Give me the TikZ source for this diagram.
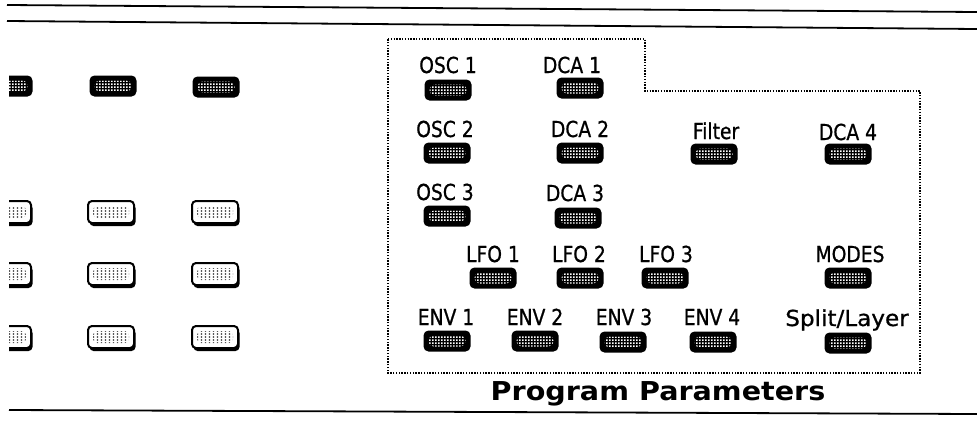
\documentclass[tikz,border=0pt]{standalone}
\usepackage{fontspec}
\usetikzlibrary{patterns,shadows}
\newfontfamily\lblfont[FakeStretch=0.85,FakeBold=0.8]{DejaVu Sans}
\newfontfamily\lblwidefont[FakeStretch=1.05,FakeBold=0.8]{DejaVu Sans}
\newfontfamily\titlefont[FakeStretch=1.1]{DejaVu Sans Bold}
\pgfdeclarepatternformonly{speckle}{\pgfqpoint{0pt}{0pt}}{\pgfqpoint{3pt}{3pt}}{\pgfqpoint{3pt}{3pt}}{%
  \pgfpathrectangle{\pgfqpoint{0pt}{0pt}}{\pgfqpoint{2.1pt}{2.1pt}}%
  \pgfusepath{fill}}
\pgfdeclarepatternformonly{griddots}{\pgfqpoint{0pt}{0pt}}{\pgfqpoint{4pt}{3pt}}{\pgfqpoint{4pt}{3pt}}{%
  \pgfpathrectangle{\pgfqpoint{1pt}{0.5pt}}{\pgfqpoint{1.6pt}{1.6pt}}%
  \pgfusepath{fill}}
\tikzset{
  lbl/.style={font=\lblfont\fontsize{22}{24}\selectfont, anchor=base, inner sep=0pt},
  ttl/.style={font=\titlefont\fontsize{26}{28}\selectfont, anchor=base, inner sep=0pt},
  btn/.style={rectangle, rounded corners=5pt, fill=black, minimum width=47pt, minimum height=21pt, inner sep=0pt,
    path picture={\fill[pattern=speckle, pattern color=white]
      ([xshift=5pt,yshift=5pt]path picture bounding box.south west) rectangle
      ([xshift=-5pt,yshift=-5pt]path picture bounding box.north east);}},
  wbtn/.style={rectangle, rounded corners=4pt, fill=white, draw=black, line width=2pt,
    minimum width=46pt, minimum height=22pt, inner sep=0pt,
    drop shadow={shadow xshift=1.5pt, shadow yshift=-3pt, fill=black, opacity=1},
    path picture={\fill[pattern=griddots, pattern color=black]
      ([xshift=5pt,yshift=5pt]path picture bounding box.south west) rectangle
      ([xshift=-5pt,yshift=-5pt]path picture bounding box.north east);}},
  rule/.style={line width=1.8pt, black},
  dotborder/.style={line width=1.4pt, dash pattern=on 1.4pt off 1.4pt, black}
}
\begin{document}
\begin{tikzpicture}[x=1pt, y=-1pt]
\useasboundingbox (0,0) rectangle (977,424);
\fill[white] (0,0) rectangle (977,424);
% horizontal rules
\draw[rule] (7,5) -- (977,12);
\draw[rule] (7,21) -- (977,29);
\draw[rule] (9,410) -- (977,414);
% left panel buttons
\begin{scope}
\clip (9,0) rectangle (977,424);
\node[btn] (la0) at (9,86) {};
\node[btn] (la1) at (113,86) {};
\node[btn] (la2) at (216,87) {};
\node[wbtn] (lb0) at (8,212) {};
\node[wbtn] (lb1) at (111,212) {};
\node[wbtn] (lb2) at (215,212) {};
\node[wbtn] (lc0) at (8,274) {};
\node[wbtn] (lc1) at (111,274) {};
\node[wbtn] (lc2) at (215,274) {};
\node[wbtn] (ld0) at (8,337) {};
\node[wbtn] (ld1) at (111,337) {};
\node[wbtn] (ld2) at (215,337) {};
\end{scope}
% dotted border
\draw[dotborder] (388,39) -- (645,39) -- (645,91) -- (920,91) -- (920,373) -- (388,373) -- cycle;
% row 1
\node[lbl] (tosc1) at (448,73) {OSC 1};
\node[btn] (bosc1) at (448,90) {};
\node[lbl] (tdca1) at (572,73) {DCA 1};
\node[btn] (bdca1) at (580,88) {};
% row 2
\node[lbl] (tosc2) at (445,137) {OSC 2};
\node[btn] (bosc2) at (447,153) {};
\node[lbl] (tdca2) at (580,137) {DCA 2};
\node[btn] (bdca2) at (580,153) {};
\node[lbl] (tfilt) at (716,139) {Filter};
\node[btn] (bfilt) at (714,154) {};
\node[lbl] (tdca4) at (848,140) {DCA 4};
\node[btn] (bdca4) at (848,154) {};
% row 3
\node[lbl] (tosc3) at (445,200) {OSC 3};
\node[btn] (bosc3) at (447,216) {};
\node[lbl] (tdca3) at (575,201) {DCA 3};
\node[btn] (bdca3) at (578,218) {};
% row 4
\node[lbl] (tlfo1) at (493,262) {LFO 1};
\node[btn] (blfo1) at (493,278) {};
\node[lbl] (tlfo2) at (579,262) {LFO 2};
\node[btn] (blfo2) at (580,278) {};
\node[lbl] (tlfo3) at (666,262) {LFO 3};
\node[btn] (blfo3) at (665,278) {};
\node[lbl] (tmodes) at (850,262) {MODES};
\node[btn] (bmodes) at (848,278) {};
% row 5
\node[lbl] (tenv1) at (446,325) {ENV 1};
\node[btn] (benv1) at (447,341) {};
\node[lbl] (tenv2) at (535,325) {ENV 2};
\node[btn] (benv2) at (535,341) {};
\node[lbl] (tenv3) at (624,325) {ENV 3};
\node[btn] (benv3) at (623,342) {};
\node[lbl] (tenv4) at (712,325) {ENV 4};
\node[btn] (benv4) at (713,342) {};
\node[lbl, font=\lblwidefont\fontsize{22}{24}\selectfont] (tsplit) at (847,326) {Split/Layer};
\node[btn] (bsplit) at (848,343) {};
% title
\node[ttl] (title) at (658,400) {Program Parameters};
\end{tikzpicture}
\end{document}
